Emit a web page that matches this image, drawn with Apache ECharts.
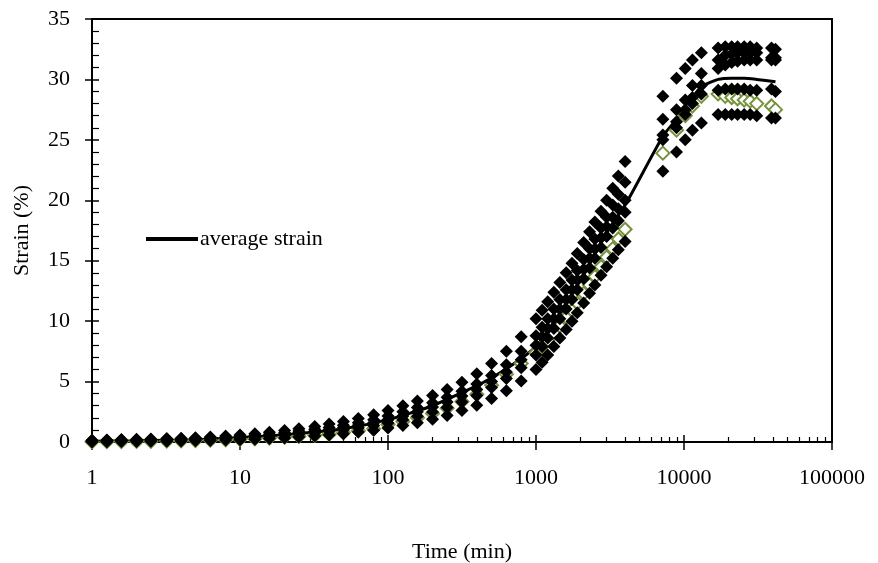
<!DOCTYPE html>
<html><head><meta charset="utf-8">
<script src="https://cdn.jsdelivr.net/npm/echarts@6/dist/echarts.min.js"></script>
<style>html,body{margin:0;padding:0;background:#fff}#c{width:878px;height:563px}</style>
</head><body><div id="c"></div>
<script>
var tEarly = [1,1.26,1.58,2,2.5,3.2,4,5,6.3,8,10,12.6,15.8,20,25,32,40,50,63,80,100,126,158,200,251,316,398,501,631,794,1000,1100,1200,1320,1450,1600,1750,1900,2100,2300,2500,2750,3000,3300,3600,4000];
var tLate = [7200,8900,10200,11400,13100,17000,19000,21000,23000,25500,28000,31000,39000,41500];

var s1Early = [0.15,0.17,0.2,0.22,0.25,0.28,0.32,0.36,0.42,0.5,0.58,0.68,0.8,0.95,1.1,1.28,1.48,1.7,1.95,2.25,2.6,3.0,3.4,3.85,4.35,4.95,5.65,6.5,7.5,8.7,10.2,10.9,11.6,12.4,13.2,14.0,14.8,15.6,16.5,17.4,18.2,19.1,20.0,21.0,22.0,23.2];
var s1Late = [28.6,30.1,30.9,31.6,32.2,32.6,32.7,32.7,32.7,32.7,32.7,32.6,32.6,32.5];
var s2Early = [0.1,0.12,0.14,0.16,0.19,0.22,0.25,0.29,0.34,0.4,0.47,0.55,0.65,0.77,0.9,1.05,1.2,1.38,1.6,1.85,2.15,2.5,2.85,3.25,3.7,4.2,4.8,5.5,6.4,7.5,8.8,9.5,10.2,11.0,11.8,12.6,13.4,14.2,15.1,16.0,16.8,17.7,18.6,19.6,20.5,21.5];
var s2Late = [26.7,27.5,28.3,29.5,30.5,31.6,32.0,32.1,32.2,32.2,32.2,32.2,31.8,31.8];
var s3Early = [0.08,0.1,0.12,0.14,0.16,0.19,0.22,0.26,0.3,0.35,0.41,0.48,0.56,0.66,0.78,0.9,1.04,1.2,1.38,1.6,1.85,2.15,2.5,2.9,3.3,3.8,4.35,5.0,5.8,6.8,8.0,8.7,9.4,10.2,11.0,11.8,12.6,13.4,14.3,15.2,16.0,16.9,17.8,18.6,19.3,20.0];
var s3Late = [25.4,26.5,27.5,28.5,29.5,30.9,31.2,31.4,31.5,31.6,31.6,31.6,31.6,31.6];
var s4Early = [0.05,0.07,0.08,0.1,0.12,0.14,0.17,0.2,0.24,0.28,0.33,0.39,0.46,0.55,0.65,0.76,0.88,1.02,1.18,1.36,1.58,1.84,2.14,2.48,2.86,3.3,3.85,4.5,5.25,6.15,7.2,7.9,8.6,9.4,10.2,11.0,11.8,12.6,13.5,14.4,15.2,16.1,17.0,17.7,18.3,19.0];
var s4Late = [25.0,26.0,27.1,28.0,28.8,29.1,29.2,29.2,29.2,29.2,29.1,29.1,29.2,29.0];
var gEarly = [0.02,0.03,0.04,0.05,0.06,0.08,0.1,0.12,0.15,0.18,0.22,0.27,0.33,0.4,0.47,0.55,0.65,0.78,0.93,1.1,1.45,1.7,2.0,2.35,2.8,3.35,3.95,4.7,5.6,6.5,7.4,7.9,8.4,9.0,9.6,10.3,10.9,11.5,12.3,13.0,13.7,14.5,15.3,16.0,16.8,17.6];
var gLate = [23.9,25.8,27.0,27.8,28.6,28.8,28.6,28.5,28.4,28.3,28.2,28.0,27.8,27.5];
var s5Early = [0.02,0.03,0.04,0.05,0.06,0.07,0.09,0.11,0.13,0.16,0.19,0.23,0.28,0.34,0.41,0.49,0.58,0.69,0.82,0.97,1.15,1.36,1.6,1.88,2.2,2.6,3.05,3.6,4.25,5.05,6.0,6.6,7.2,7.9,8.6,9.3,10.0,10.7,11.5,12.3,13.0,13.8,14.5,15.2,15.9,16.6];
var s5Late = [22.4,24.0,25.0,25.8,26.4,27.1,27.1,27.1,27.1,27.1,27.1,27.0,26.8,26.8];

var avgT = [1,2,5,10,20,50,100,200,500,1000,2000,3000,4000,7200,8900,10200,11400,13100,17000,21000,25500,31000,41500];
var avgV = [0.07,0.11,0.18,0.37,0.6,1.1,1.85,3.0,5.3,7.9,13.4,17.3,19.6,25.3,26.7,27.6,28.5,29.4,30.0,30.1,30.1,30.0,29.8];

var yTicks = [0,5,10,15,20,25,30,35];
var xTickLabels = ['1','10','100','1000','10000','100000'];

function pairs(tA, vA, tB, vB) {
  var out = [];
  for (var i = 0; i < tA.length; i++) out.push([tA[i], vA[i]]);
  for (var j = 0; j < tB.length; j++) out.push([tB[j], vB[j]]);
  return out;
}
var FONT = 'Liberation Serif';
var FS = 22;
var blackSeries = [
  pairs(tEarly, s1Early, tLate, s1Late),
  pairs(tEarly, s2Early, tLate, s2Late),
  pairs(tEarly, s3Early, tLate, s3Late),
  pairs(tEarly, s4Early, tLate, s4Late),
  pairs(tEarly, s5Early, tLate, s5Late)
];
var series = [];
series.push({
  type: 'line', name: 'average strain', data: avgT.map(function (t, i) { return [t, avgV[i]]; }),
  showSymbol: false, symbol: 'none', smooth: 0.2, z: 1,
  lineStyle: { color: '#000', width: 3 }, itemStyle: { color: '#000' }
});
series.push({
  type: 'scatter', name: 'G', data: pairs(tEarly, gEarly, tLate, gLate),
  symbol: 'diamond', symbolSize: 13, z: 2,
  itemStyle: { color: '#ffffff', borderColor: '#77933C', borderWidth: 2, opacity: 1 }
});
blackSeries.forEach(function (d, i) {
  series.push({ type: 'scatter', name: 'S' + (i + 1), data: d, symbol: 'diamond', symbolSize: 13, z: 3,
    itemStyle: { color: '#000000', opacity: 1 } });
});

var chart = echarts.init(document.getElementById('c'), null, { renderer: 'canvas' });
chart.setOption({
  animation: false,
  backgroundColor: '#fff',
  textStyle: { fontFamily: FONT },
  grid: { left: 92, right: 46, top: 19, bottom: 121, containLabel: false, outerBoundsMode: 'none',
    show: true, borderColor: '#000', borderWidth: 2, backgroundColor: 'transparent' },
  legend: {
    data: ['average strain'], left: 141, top: 223, itemWidth: 52, itemHeight: 4, itemGap: 5,
    icon: 'rect',
    textStyle: { fontFamily: FONT, fontSize: FS, color: '#000', padding: [0, 0, 0, -3] }
  },
  xAxis: [{
    type: 'log', logBase: 10, min: 1, max: 100000,
    name: 'Time (min)', nameLocation: 'middle', nameGap: 99,
    nameTextStyle: { fontFamily: FONT, fontSize: FS, color: '#000' },
    axisLine: { show: true, onZero: false, lineStyle: { color: '#000', width: 2 } },
    axisTick: { show: true, inside: true, length: 7, lineStyle: { color: '#000', width: 1.5 } },
    minorTick: { show: true, splitNumber: 9, length: 5, lineStyle: { color: '#000', width: 1.2 } },
    axisLabel: { fontFamily: FONT, fontSize: FS, color: '#000', margin: 25,
      formatter: function (v) { var k = Math.round(Math.log10(v)); return xTickLabels[k] || ''; } },
    splitLine: { show: false }, minorSplitLine: { show: false }
  }, {
    type: 'log', logBase: 10, min: 1, max: 100000, position: 'bottom',
    axisLine: { show: false, onZero: false },
    axisTick: { show: true, inside: false, length: 8, lineStyle: { color: '#000', width: 1.5 } },
    axisLabel: { show: false }, splitLine: { show: false }
  }],
  yAxis: [{
    type: 'value', min: 0, max: 35, interval: 5,
    name: 'Strain (%)', nameLocation: 'middle', nameGap: 59, nameRotate: 90,
    nameTextStyle: { fontFamily: FONT, fontSize: FS, color: '#000' },
    axisLine: { show: true, onZero: false, lineStyle: { color: '#000', width: 2 } },
    axisTick: { show: true, inside: true, length: 7, lineStyle: { color: '#000', width: 1.5 } },
    minorTick: { show: true, splitNumber: 5, length: 7, lineStyle: { color: '#000', width: 1.2 } },
    axisLabel: { fontFamily: FONT, fontSize: FS, color: '#000', margin: 22,
      formatter: function (v) { return yTicks.indexOf(v) >= 0 ? String(v) : ''; } },
    splitLine: { show: false }
  }, {
    type: 'value', min: 0, max: 35, interval: 5, position: 'left',
    axisLine: { show: false, onZero: false },
    axisTick: { show: true, inside: false, length: 7, lineStyle: { color: '#000', width: 1.5 } },
    axisLabel: { show: false }, splitLine: { show: false }
  }],
  series: series
});
</script>
</body></html>
